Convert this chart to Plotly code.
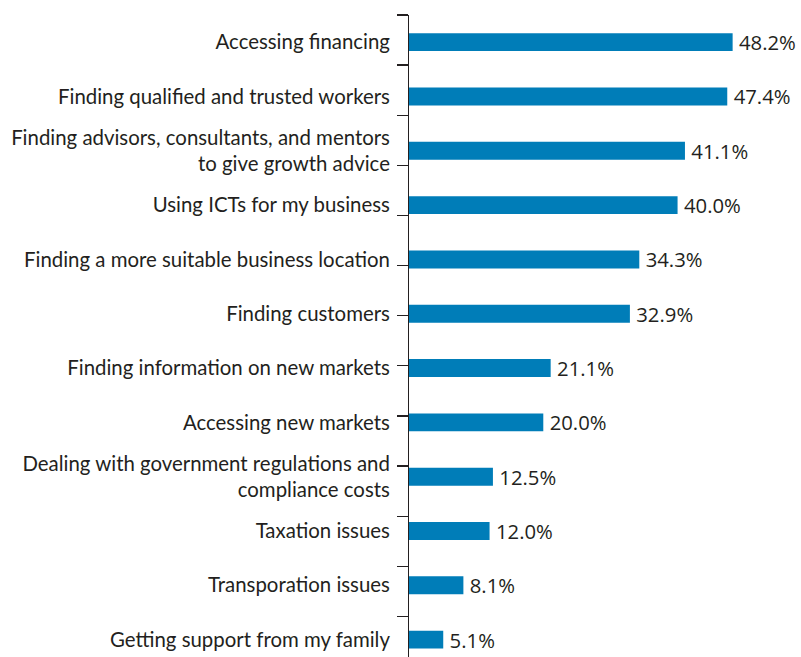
import plotly.graph_objects as go

categories = [
    "Accessing financing",
    "Finding qualified and trusted workers",
    "Finding advisors, consultants, and mentors<br>to give growth advice",
    "Using ICTs for my business",
    "Finding a more suitable business location",
    "Finding customers",
    "Finding information on new markets",
    "Accessing new markets",
    "Dealing with government regulations and<br>compliance costs",
    "Taxation issues",
    "Transporation issues",
    "Getting support from my family",
]
values = [48.2, 47.4, 41.1, 40.0, 34.3, 32.9, 21.1, 20.0, 12.5, 12.0, 8.1, 5.1]

TEXT = "#231f20"
FONT = "Lato"

fig = go.Figure()
fig.add_trace(go.Bar(
    y=categories,
    x=values,
    orientation="h",
    marker=dict(color="#007db8", line=dict(width=0)),
    text=["\u2009%.1f%%" % v for v in values],
    textposition="outside",
    constraintext="none",
    textfont=dict(family="Open Sans", size=20.3, color=TEXT),
    cliponaxis=False,
    hoverinfo="skip",
))
# empty trace so the tick/line axis is drawn
fig.add_trace(go.Scatter(x=[], y=[], yaxis="y2", hoverinfo="skip", showlegend=False))

fig.update_layout(
    width=801, height=657,
    margin=dict(l=409, r=16, t=15, b=0, autoexpand=False),
    paper_bgcolor="white", plot_bgcolor="white",
    showlegend=False,
    bargap=0.67,
    font=dict(family=FONT, size=20.4, color=TEXT),
    xaxis=dict(visible=False, range=[0, 56], fixedrange=True, automargin=False),
    yaxis=dict(
        type="category",
        categoryorder="array", categoryarray=categories,
        range=[11.32, -0.5],
        showline=False, showgrid=False, zeroline=False,
        ticks="outside", ticklen=14, tickcolor="rgba(0,0,0,0)",
        tickfont=dict(family=FONT, size=20.4, color=TEXT),
        automargin=False, fixedrange=True,
    ),
    yaxis2=dict(
        overlaying="y", anchor="x", side="left",
        range=[12.81, 0], tick0=0, dtick=1,
        ticks="outside", ticklen=11, tickwidth=1.3, tickcolor=TEXT,
        showline=True, linecolor=TEXT, linewidth=1.3,
        showticklabels=False, showgrid=False, zeroline=False,
        fixedrange=True, automargin=False,
    ),
)

fig.write_html(
    "out.html",
    config={"displayModeBar": False, "staticPlot": True},
    post_script="document.body.style.margin='0px';document.body.style.overflow='hidden';",
)
